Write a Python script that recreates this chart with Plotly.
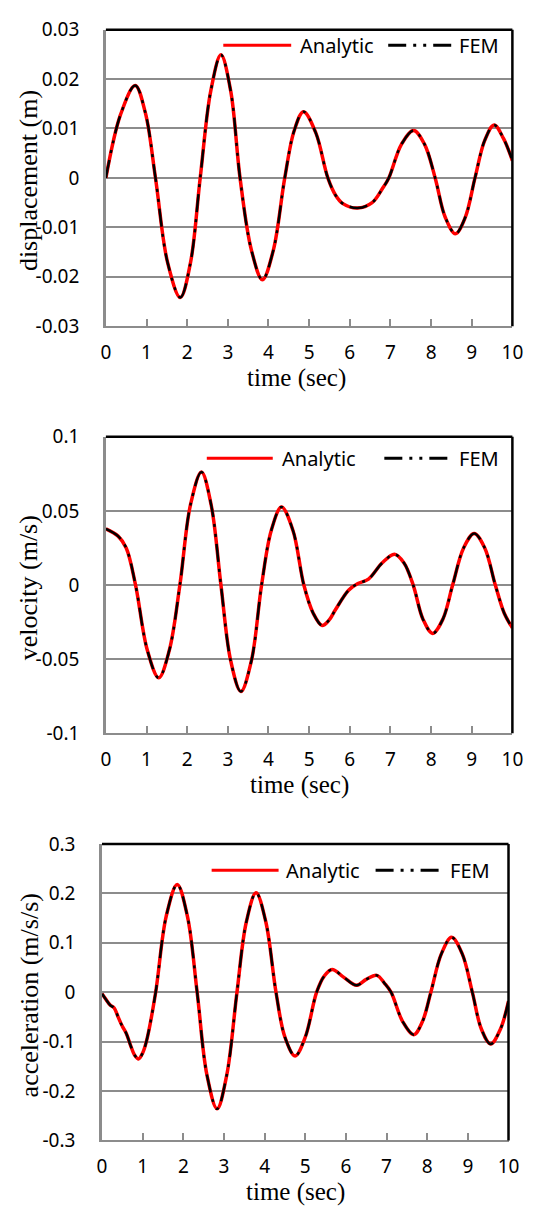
import plotly.graph_objects as go

# ---- data: response histories (time in sec) ----
disp_t = [0, 0.36, 0.72, 0.97, 1.22, 1.52, 1.83, 2.08, 2.32, 2.58, 2.83, 3.07, 3.30,
          3.58, 3.85, 4.12, 4.40, 4.63, 4.86, 5.16, 5.46, 5.65, 5.83, 6.19, 6.55, 6.80,
          6.96, 7.27, 7.57, 7.84, 8.10, 8.35, 8.60, 8.84, 9.08, 9.32, 9.55, 9.78, 10.0]
disp_v = [0, 0.0128, 0.0187, 0.0132, 0, -0.0172, -0.0242, -0.0172, 0, 0.0176, 0.0249,
          0.0176, 0, -0.0146, -0.0206, -0.0146, 0, 0.0095, 0.0134, 0.0092, 0, -0.0035,
          -0.0052, -0.0061, -0.0050, -0.0022, 0, 0.0068, 0.0096, 0.0068, 0, -0.0080,
          -0.0113, -0.0080, 0, 0.0076, 0.0107, 0.0080, 0.0035]

vel_t = [0, 0.3, 0.5, 0.73, 1.02, 1.30, 1.56, 1.82, 2.08, 2.35, 2.59, 2.83, 3.07, 3.32,
         3.58, 3.83, 4.07, 4.32, 4.60, 4.87, 5.10, 5.32, 5.48, 5.65, 5.97, 6.20, 6.46,
         6.80, 7.10, 7.33, 7.56, 7.80, 8.04, 8.29, 8.53, 8.80, 9.06, 9.32, 9.58, 9.80,
         10.0]
vel_v = [0.0379, 0.033, 0.025, 0, -0.044, -0.0626, -0.044, 0, 0.054, 0.0762, 0.054, 0,
         -0.051, -0.0718, -0.051, 0, 0.037, 0.0526, 0.037, 0, -0.019, -0.0273, -0.024,
         -0.0165, -0.0035, 0.001, 0.004, 0.015, 0.0207, 0.015, 0, -0.023, -0.0326,
         -0.023, 0, 0.025, 0.0348, 0.025, 0, -0.019, -0.0289]

acc_t = [0, 0.1, 0.2, 0.3, 0.4, 0.5, 0.6, 0.7, 0.8, 0.9, 1.0, 1.1, 1.32, 1.58, 1.85,
         2.10, 2.34, 2.58, 2.83, 3.07, 3.32, 3.55, 3.79, 4.03, 4.28, 4.50, 4.75, 5.00,
         5.28, 5.47, 5.66, 5.95, 6.26, 6.50, 6.76, 6.95, 7.11, 7.40, 7.67, 7.88, 8.09,
         8.35, 8.60, 8.86, 9.11, 9.33, 9.56, 9.80, 10.0]
acc_v = [-0.003, -0.015, -0.026, -0.032, -0.051, -0.069, -0.084, -0.107, -0.127, -0.135,
         -0.123, -0.097, 0, 0.154, 0.218, 0.154, 0, -0.167, -0.236, -0.167, 0, 0.142,
         0.201, 0.142, 0, -0.091, -0.129, -0.091, 0, 0.033, 0.046, 0.030, 0.014, 0.026,
         0.034, 0.018, 0, -0.060, -0.086, -0.060, 0, 0.078, 0.111, 0.078, 0, -0.074,
         -0.105, -0.075, -0.018]

# ---- tick labels ----
x_ticks = list(range(0, 11))
x_ticklabels = [str(v) for v in x_ticks]
disp_ticks = [0.03, 0.02, 0.01, 0, -0.01, -0.02, -0.03]
disp_ticklabels = ["0.03", "0.02", "0.01", "0", "-0.01", "-0.02", "-0.03"]
vel_ticks = [0.1, 0.05, 0, -0.05, -0.1]
vel_ticklabels = ["0.1", "0.05", "0", "-0.05", "-0.1"]
acc_ticks = [0.3, 0.2, 0.1, 0, -0.1, -0.2, -0.3]
acc_ticklabels = ["0.3", "0.2", "0.1", "0", "-0.1", "-0.2", "-0.3"]

y_titles = ["displacement (m)", "velocity (m/s)", "acceleration (m/s/s)"]
x_title = "time (sec)"
series_names = ["Analytic", "FEM"]

W, H = 536, 1221
RED = "#FF0000"
GRID = "#8C8C8C"
FEM_DASH = "18px,7px,3px,7px,3px,7px"
SANS = "Noto Sans, Open Sans, sans-serif"
SERIF = "Liberation Serif, Times New Roman, serif"


def px(x):
    return x / W


def py(y):
    return 1 - y / H


# plot-area boxes in pixels: left, right, top, bottom
boxes = [(104, 523, 17, 320), (104, 523, 433, 736), (100, 519, 849, 1152)]
panels = [
    (disp_t, disp_v, disp_ticks, disp_ticklabels, (-0.03, 0.03)),
    (vel_t, vel_v, vel_ticks, vel_ticklabels, (-0.1, 0.1)),
    (acc_t, acc_v, acc_ticks, acc_ticklabels, (-0.3, 0.3)),
]
# legend sample positions (px): red line x0,x1, text x, fem line x0,x1, fem text x, y
legend_pos = [
    (225, 295, 302, 395, 460, 466, 33),
    (208, 276, 283, 391, 457, 466, 455),
    (213, 282, 288, 382, 450, 457, 876),
]
# horizontal shift of the x-axis title relative to the plot centre
xtitle_shift = [-13, -10, -10]

fig = go.Figure()
shapes = []
annotations = []

for i, ((t, v, yt, ytl, yr), (l, r, tp, bt), lg) in enumerate(zip(panels, boxes, legend_pos)):
    n = "" if i == 0 else str(i + 1)
    xa, ya = "x" + n, "y" + n
    fig.add_trace(go.Scatter(x=t, y=v, xaxis=xa, yaxis=ya, mode="lines",
                             name=series_names[0], showlegend=False,
                             line=dict(color=RED, width=3.5, shape="spline", smoothing=1)))
    fig.add_trace(go.Scatter(x=t, y=v, xaxis=xa, yaxis=ya, mode="lines",
                             name=series_names[1], showlegend=False,
                             line=dict(color="black", width=2.5, dash=FEM_DASH,
                                       shape="spline", smoothing=1)))
    fig.update_layout(**{
        "xaxis" + n: dict(domain=[px(l), px(r)], anchor=ya, range=[0, 10],
                          tickvals=x_ticks, ticktext=x_ticklabels,
                          showgrid=False, zeroline=False,
                          showline=True, linecolor=GRID, linewidth=2,
                          ticks="inside", ticklen=7, tickwidth=1.5, tickcolor=GRID,
                          ticklabelstandoff=8,
                          tickfont=dict(family=SANS, size=19, color="black")),
        "yaxis" + n: dict(domain=[py(bt), py(tp)], anchor=xa, range=list(yr),
                          tickvals=yt, ticktext=ytl,
                          showgrid=True, gridcolor=GRID, gridwidth=1.5,
                          zeroline=False,
                          showline=True, linecolor=GRID, linewidth=2.5,
                          ticks="", ticklabelstandoff=20,
                          tickfont=dict(family=SANS, size=19, color="black")),
    })
    # black frame on top and right
    shapes.append(dict(type="line", xref="paper", yref="paper",
                       x0=px(l), x1=px(r), y0=py(tp), y1=py(tp),
                       line=dict(color="black", width=2.5), layer="above"))
    shapes.append(dict(type="line", xref="paper", yref="paper",
                       x0=px(r), x1=px(r), y0=py(tp), y1=py(bt),
                       line=dict(color="black", width=2.5), layer="above"))
    # axis titles
    annotations.append(dict(text=y_titles[i], xref="paper", yref="paper",
                            x=px(25), y=py((tp + bt) / 2 + 3), textangle=-90,
                            showarrow=False, xanchor="center", yanchor="middle",
                            font=dict(family=SERIF, size=26, color="black")))
    annotations.append(dict(text=x_title, xref="paper", yref="paper",
                            x=px((l + r) / 2 + xtitle_shift[i]), y=py(bt + 53),
                            showarrow=False, xanchor="center", yanchor="middle",
                            font=dict(family=SERIF, size=25, color="black")))
    # legend
    rx0, rx1, atx, fx0, fx1, ftx, ly = lg
    shapes.append(dict(type="line", xref="paper", yref="paper",
                       x0=px(rx0), x1=px(rx1), y0=py(ly), y1=py(ly),
                       line=dict(color=RED, width=3)))
    shapes.append(dict(type="line", xref="paper", yref="paper",
                       x0=px(fx0), x1=px(fx1), y0=py(ly), y1=py(ly),
                       line=dict(color="black", width=3, dash=FEM_DASH)))
    annotations.append(dict(text=series_names[0], xref="paper", yref="paper",
                            x=px(atx), y=py(ly), showarrow=False,
                            xanchor="left", yanchor="middle",
                            font=dict(family=SANS, size=20, color="black")))
    annotations.append(dict(text=series_names[1], xref="paper", yref="paper",
                            x=px(ftx), y=py(ly), showarrow=False,
                            xanchor="left", yanchor="middle",
                            font=dict(family=SANS, size=20, color="black")))

fig.update_layout(width=W, height=H, margin=dict(l=0, r=0, t=0, b=0),
                  paper_bgcolor="white", plot_bgcolor="white",
                  shapes=shapes, annotations=annotations, showlegend=False)

fig.write_html("out.html",
               post_script="document.body.style.margin='0';"
                           "document.body.style.overflow='hidden';")
